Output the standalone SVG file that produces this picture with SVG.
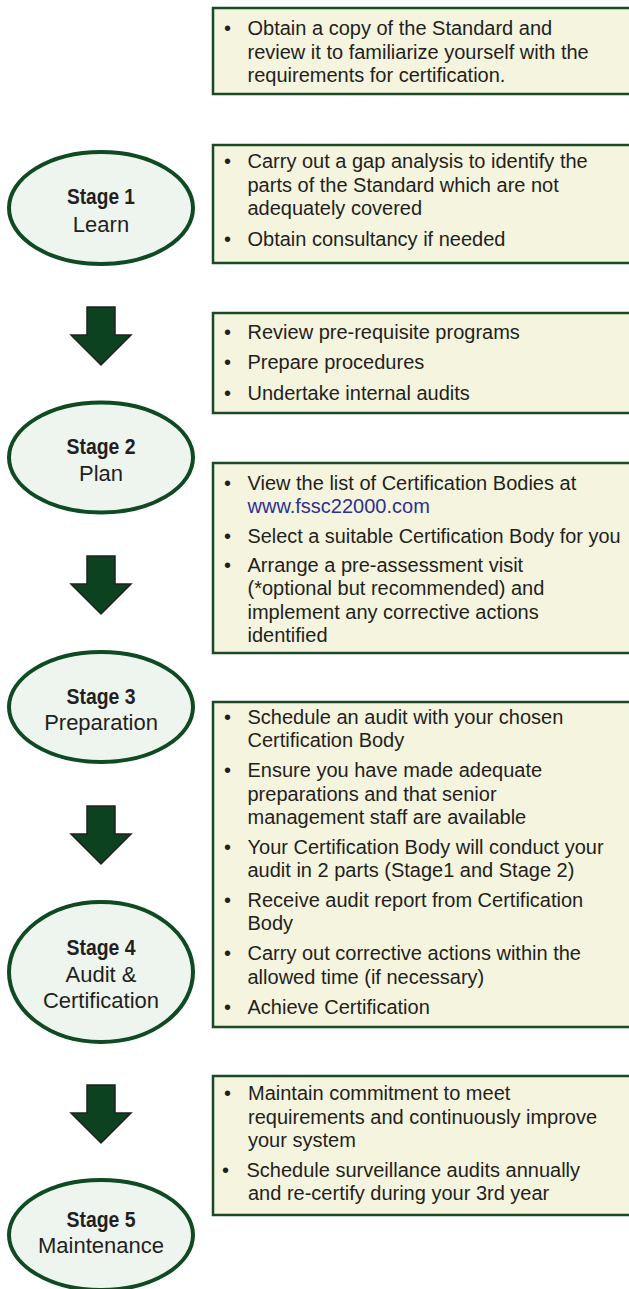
<svg xmlns="http://www.w3.org/2000/svg" width="629" height="1289" viewBox="0 0 629 1289">
<style>
.box{fill:#f5f4de;stroke:#1a4a24;stroke-width:2.5}
.ell{fill:#eef5ee;stroke:#0f4a22;stroke-width:4}
.arr{fill:#0c4220;stroke:#231f20;stroke-width:1.5;stroke-linejoin:miter}
.t{font-family:"Liberation Sans",Arial,sans-serif;font-size:20px;fill:#231f20}
.link{fill:#2e3192}
.st{font-family:"Liberation Sans",Arial,sans-serif;font-size:22px;font-weight:bold;fill:#231f20;text-anchor:middle}
.sl{font-family:"Liberation Sans",Arial,sans-serif;font-size:22px;fill:#231f20;text-anchor:middle}
</style>
<rect width="629" height="1289" fill="#ffffff"/>
<g id="connectors">
<polygon class="arr" points="87,307 115,307 115,335 131,335 101,365 71,335 87,335"/>
<polygon class="arr" points="87,556 115,556 115,584 131,584 101,614 71,584 87,584"/>
<polygon class="arr" points="87,806 115,806 115,834 131,834 101,864 71,834 87,834"/>
<polygon class="arr" points="87,1085 115,1085 115,1113 131,1113 101,1143 71,1113 87,1113"/>
</g>
<g id="box1">
<rect class="box" x="213" y="8" width="422" height="86"/>
<text class="t" x="224" y="35">•</text>
<text class="t" x="247.5" y="35">Obtain a copy of the Standard and</text>
<text class="t" x="247.5" y="58.5">review it to familiarize yourself with the</text>
<text class="t" x="247.5" y="82">requirements for certification.</text>
</g>
<g id="stage1">
<ellipse class="ell" cx="101" cy="208" rx="92" ry="56"/>
<text class="st" x="101" y="204" textLength="68" lengthAdjust="spacingAndGlyphs">Stage 1</text>
<text class="sl" x="101" y="231.5">Learn</text>
</g>
<g id="box2">
<rect class="box" x="213" y="145" width="422" height="118"/>
<text class="t" x="224" y="168">•</text>
<text class="t" x="247.5" y="168">Carry out a gap analysis to identify the</text>
<text class="t" x="247.5" y="191.5">parts of the Standard which are not</text>
<text class="t" x="247.5" y="215">adequately covered</text>
<text class="t" x="224" y="246">•</text>
<text class="t" x="247.5" y="246">Obtain consultancy if needed</text>
</g>
<g id="box3">
<rect class="box" x="213" y="313" width="422" height="100"/>
<text class="t" x="224" y="338.5">•</text>
<text class="t" x="247.5" y="338.5">Review pre-requisite programs</text>
<text class="t" x="224" y="369">•</text>
<text class="t" x="247.5" y="369">Prepare procedures</text>
<text class="t" x="224" y="399.5">•</text>
<text class="t" x="247.5" y="399.5">Undertake internal audits</text>
</g>
<g id="stage2">
<ellipse class="ell" cx="101" cy="457.5" rx="92" ry="55"/>
<text class="st" x="101" y="454" textLength="69" lengthAdjust="spacingAndGlyphs">Stage 2</text>
<text class="sl" x="101" y="480.5">Plan</text>
</g>
<g id="box4">
<rect class="box" x="213" y="463" width="422" height="190"/>
<text class="t" x="224" y="489.5">•</text>
<text class="t" x="247.5" y="489.5">View the list of Certification Bodies at</text>
<text class="t link" x="247.5" y="513">www.fssc22000.com</text>
<text class="t" x="224" y="542.5">•</text>
<text class="t" x="247.5" y="542.5" textLength="373" lengthAdjust="spacingAndGlyphs">Select a suitable Certification Body for you</text>
<text class="t" x="224" y="571.5">•</text>
<text class="t" x="247.5" y="571.5">Arrange a pre-assessment visit</text>
<text class="t" x="247.5" y="595">(*optional but recommended) and</text>
<text class="t" x="247.5" y="618.5">implement any corrective actions</text>
<text class="t" x="247.5" y="642">identified</text>
</g>
<g id="stage3">
<ellipse class="ell" cx="101" cy="707" rx="92" ry="55"/>
<text class="st" x="101" y="703.5" textLength="69" lengthAdjust="spacingAndGlyphs">Stage 3</text>
<text class="sl" x="101" y="729.5">Preparation</text>
</g>
<g id="box5">
<rect class="box" x="213" y="702" width="422" height="325"/>
<text class="t" x="224" y="723.5">•</text>
<text class="t" x="247.5" y="723.5">Schedule an audit with your chosen</text>
<text class="t" x="247.5" y="747">Certification Body</text>
<text class="t" x="224" y="777">•</text>
<text class="t" x="247.5" y="777">Ensure you have made adequate</text>
<text class="t" x="247.5" y="800.5">preparations and that senior</text>
<text class="t" x="247.5" y="824">management staff are available</text>
<text class="t" x="224" y="853.5">•</text>
<text class="t" x="247.5" y="853.5">Your Certification Body will conduct your</text>
<text class="t" x="247.5" y="877">audit in 2 parts (Stage1 and Stage 2)</text>
<text class="t" x="224" y="906.5">•</text>
<text class="t" x="247.5" y="906.5">Receive audit report from Certification</text>
<text class="t" x="247.5" y="930">Body</text>
<text class="t" x="224" y="960">•</text>
<text class="t" x="247.5" y="960">Carry out corrective actions within the</text>
<text class="t" x="247.5" y="983.5">allowed time (if necessary)</text>
<text class="t" x="224" y="1013.5">•</text>
<text class="t" x="247.5" y="1013.5">Achieve Certification</text>
</g>
<g id="stage4">
<ellipse class="ell" cx="101" cy="972" rx="92" ry="70"/>
<text class="st" x="101" y="955" textLength="69" lengthAdjust="spacingAndGlyphs">Stage 4</text>
<text class="sl" x="101" y="981.5">Audit &amp;</text>
<text class="sl" x="101" y="1008">Certification</text>
</g>
<g id="box6">
<rect class="box" x="213" y="1076" width="422" height="139"/>
<text class="t" x="224" y="1100">•</text>
<text class="t" x="248" y="1100">Maintain commitment to meet</text>
<text class="t" x="248" y="1123.5">requirements and continuously improve</text>
<text class="t" x="248" y="1147">your system</text>
<text class="t" x="222" y="1176.5">•</text>
<text class="t" x="246.5" y="1176.5">Schedule surveillance audits annually</text>
<text class="t" x="248" y="1200">and re-certify during your 3rd year</text>
</g>
<g id="stage5">
<ellipse class="ell" cx="101" cy="1235" rx="92" ry="55"/>
<text class="st" x="101" y="1226.5" textLength="69" lengthAdjust="spacingAndGlyphs">Stage 5</text>
<text class="sl" x="101" y="1253">Maintenance</text>
</g>
</svg>
